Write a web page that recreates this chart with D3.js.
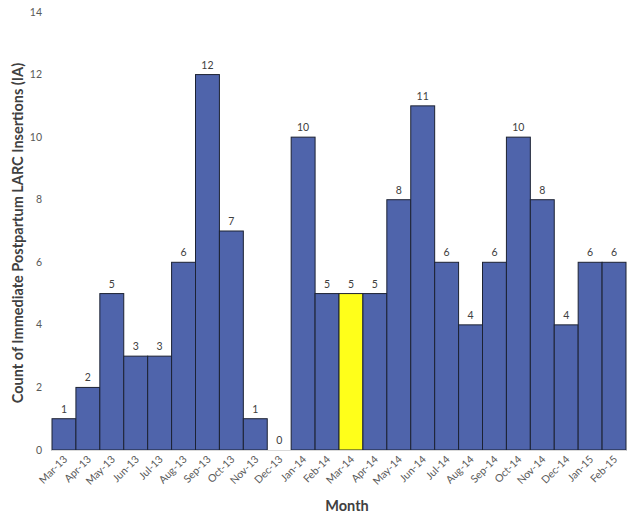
<!DOCTYPE html>
<html>
<head>
<meta charset="utf-8">
<script src="https://cdn.jsdelivr.net/npm/d3@7"></script>
<style>
  body { margin: 0; background: #fff; }
  svg { font-family: Lato, "Open Sans", sans-serif; }
  .tick-label { font-size: 10.5px; fill: #595959; }
  .value { font-size: 10.5px; fill: #404040; }
  .title { font-size: 14.5px; font-weight: bold; fill: #404040; }
</style>
</head>
<body>
<svg width="632" height="519"></svg>
<script>
const months = ['Mar-13', 'Apr-13', 'May-13', 'Jun-13', 'Jul-13', 'Aug-13', 'Sep-13', 'Oct-13',
    'Nov-13', 'Dec-13', 'Jan-14', 'Feb-14', 'Mar-14', 'Apr-14', 'May-14', 'Jun-14', 'Jul-14',
    'Aug-14', 'Sep-14', 'Oct-14', 'Nov-14', 'Dec-14', 'Jan-15', 'Feb-15'];
const counts = [1, 2, 5, 3, 3, 6, 12, 7, 1, 0, 10, 5, 5, 5, 8, 11, 6, 4, 6, 10, 8, 4, 6, 6];
const highlighted = ['Mar-14'];
const yTicks = [0, 2, 4, 6, 8, 10, 12, 14];

const data = months.map((m, i) => ({ month: m, count: counts[i] }));

const svg = d3.select('svg');
const plotLeft = 52, plotRight = 626, plotTop = 12, plotBottom = 450;

const xScale = d3.scaleBand()
    .range([plotLeft, plotRight])
    .domain(months)
    .padding(0);

const yScale = d3.scaleLinear()
    .range([plotBottom, plotTop])
    .domain([0, 14]);

// y tick labels (no axis line)
svg.append('g')
    .selectAll('text')
    .data(yTicks)
    .enter()
    .append('text')
    .attr('class', 'tick-label')
    .attr('x', 42)
    .attr('y', (d) => yScale(d) + 3.5)
    .attr('text-anchor', 'end')
    .text((d) => d);

// bars
svg.append('g')
    .selectAll('rect')
    .data(data.filter((d) => d.count > 0))
    .enter()
    .append('rect')
    .attr('x', (d) => xScale(d.month))
    .attr('y', (d) => yScale(d.count))
    .attr('width', xScale.bandwidth())
    .attr('height', (d) => plotBottom - yScale(d.count))
    .attr('fill', (d) => highlighted.includes(d.month) ? '#ffff1a' : '#4f64ab')
    .attr('stroke', '#1c2233')
    .attr('stroke-width', 1);

// baseline
svg.append('line')
    .attr('x1', plotLeft)
    .attr('x2', plotRight)
    .attr('y1', plotBottom + 0.5)
    .attr('y2', plotBottom + 0.5)
    .attr('stroke', '#d9d9d9')
    .attr('stroke-width', 1);

// value labels
svg.append('g')
    .selectAll('text')
    .data(data)
    .enter()
    .append('text')
    .attr('class', 'value')
    .attr('x', (d) => xScale(d.month) + xScale.bandwidth() / 2)
    .attr('y', (d) => yScale(d.count) - 6)
    .attr('text-anchor', 'middle')
    .text((d) => d.count);

// x tick labels, rotated
svg.append('g')
    .selectAll('text')
    .data(months)
    .enter()
    .append('text')
    .attr('class', 'tick-label')
    .attr('transform', (d) => `translate(${xScale(d) + xScale.bandwidth() / 2 + 4}, ${plotBottom + 10}) rotate(-45)`)
    .attr('text-anchor', 'end')
    .text((d) => d);

svg.append('text')
    .attr('class', 'title')
    .attr('transform', 'translate(23, 233) rotate(-90)')
    .attr('text-anchor', 'middle')
    .text('Count of Immediate Postpartum LARC Insertions (IA)');

svg.append('text')
    .attr('class', 'title')
    .attr('x', 347)
    .attr('y', 511)
    .attr('text-anchor', 'middle')
    .text('Month');
</script>
</body>
</html>
